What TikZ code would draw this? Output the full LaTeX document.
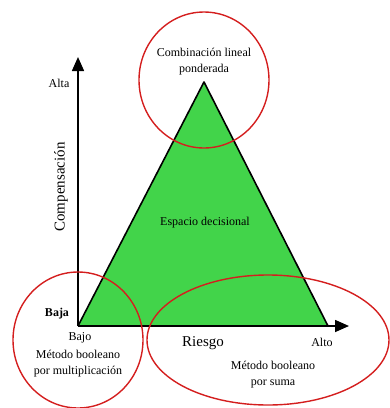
\documentclass[tikz,border=0pt]{standalone}
\usepackage{fontspec}
\setmainfont{Liberation Serif}
\usetikzlibrary{arrows.meta}
\definecolor{zone}{HTML}{D41E1E}
\definecolor{space}{HTML}{42D44A}

\begin{document}
\begin{tikzpicture}[x=1pt,y=-1pt,font=\fontsize{12}{16}\selectfont,>={Triangle[length=14pt,width=12pt]}]
\useasboundingbox (0,0) rectangle (390,408);
\coordinate (origin) at (78,326);
\coordinate (ytip) at (78,57);
\coordinate (xtip) at (349,326);
\coordinate (apex) at (204,82);
\coordinate (corner) at (328,326);
% decision space
\fill[space] (origin) -- (apex) -- (corner) -- cycle;
\draw[line width=1.6pt,line join=round] (origin) -- (apex) -- (corner);
\node (space) at (205,223) {Espacio decisional};
% axes
\draw[->,line width=1.6pt] (origin) -- (ytip);
\draw[->,line width=1.6pt] (origin) -- (xtip);
\node (alta) at (59,83) {Alta};
\node (baja) at (57,314) {\bfseries Baja};
\node (comp) [rotate=90] at (61,187) {\fontsize{15}{18}\selectfont Compensación};
\node (bajo) at (80,338) {Bajo};
\node (alto) at (322,342) {Alto};
\node (riesgo) at (203,343) {\fontsize{15}{18}\selectfont Riesgo};
% methods
\node (combo) [align=center] at (204,62) {Combinación lineal\\ponderada};
\node (boolmult) [align=center] at (78,364) {Método booleano\\por multiplicación};
\node (boolsum) [align=center] at (273,375) {Método booleano\\por suma};
\draw[zone,line width=1.4pt] (204,80) ellipse [x radius=65pt,y radius=68pt];
\draw[zone,line width=1.4pt] (78,340) ellipse [x radius=65pt,y radius=68pt];
\draw[zone,line width=1.4pt] (268,340) ellipse [x radius=121pt,y radius=65pt];
\end{tikzpicture}
\end{document}
